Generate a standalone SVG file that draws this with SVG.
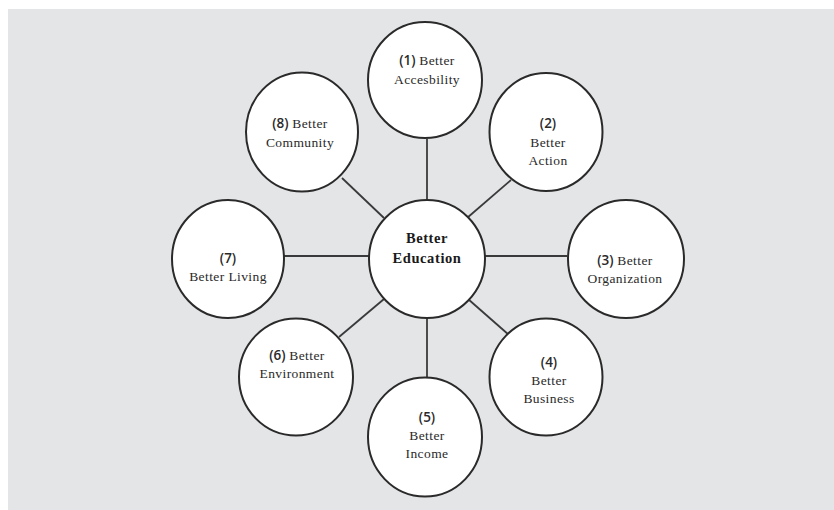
<svg xmlns="http://www.w3.org/2000/svg" width="834" height="510" viewBox="0 0 834 510">
<style>
.node ellipse{fill:#ffffff;stroke:#2a2a2a;stroke-width:2}
.lbl{font-family:"Liberation Serif","Times New Roman",serif;font-size:13.5px;fill:#2a2a2a;text-anchor:middle;letter-spacing:0.4px}
.num{font-family:"Open Sans","Liberation Sans",sans-serif;font-size:13.5px;font-weight:600;letter-spacing:0}
.main{font-family:"Liberation Serif","Times New Roman",serif;font-size:14.5px;font-weight:bold;fill:#1a1a1a;text-anchor:middle;letter-spacing:0.6px}
.edge{stroke:#3a3a3a;stroke-width:1.8;fill:none}
</style>
<rect x="0" y="0" width="834" height="510" fill="#ffffff"/>
<rect x="8" y="9" width="826" height="501" fill="#e4e5e7"/>
<g id="connectors">
<line class="edge" x1="427" y1="139" x2="427" y2="201"/>
<line class="edge" x1="342" y1="178" x2="384" y2="218"/>
<line class="edge" x1="511" y1="180" x2="467" y2="218"/>
<line class="edge" x1="284" y1="256" x2="369" y2="256"/>
<line class="edge" x1="484" y1="256" x2="567" y2="256"/>
<line class="edge" x1="339" y1="337" x2="384" y2="299"/>
<line class="edge" x1="468" y1="299" x2="509" y2="335"/>
<line class="edge" x1="427" y1="317" x2="427" y2="379"/>
</g>
<g id="center" class="node">
<ellipse cx="427" cy="259" rx="58" ry="59"/>
<text class="main" x="427" y="243">Better</text>
<text class="main" x="427" y="263">Education</text>
</g>
<g id="n1" class="node">
<ellipse cx="425" cy="80" rx="57" ry="58"/>
<text class="lbl" x="427" y="65"><tspan class="num">(1)</tspan> Better</text>
<text class="lbl" x="427" y="84">Accesbility</text>
</g>
<g id="n2" class="node">
<ellipse cx="546" cy="132" rx="56.5" ry="59"/>
<text class="lbl num" x="548" y="128">(2)</text>
<text class="lbl" x="548" y="147">Better</text>
<text class="lbl" x="548" y="165">Action</text>
</g>
<g id="n3" class="node">
<ellipse cx="626" cy="259" rx="58" ry="59"/>
<text class="lbl" x="625" y="265"><tspan class="num">(3)</tspan> Better</text>
<text class="lbl" x="625" y="283">Organization</text>
</g>
<g id="n4" class="node">
<ellipse cx="546" cy="377" rx="56.5" ry="58.5"/>
<text class="lbl num" x="549" y="367">(4)</text>
<text class="lbl" x="549" y="385">Better</text>
<text class="lbl" x="549" y="403">Business</text>
</g>
<g id="n5" class="node">
<ellipse cx="425" cy="437" rx="57" ry="59.5"/>
<text class="lbl num" x="427" y="422">(5)</text>
<text class="lbl" x="427" y="440">Better</text>
<text class="lbl" x="427" y="458">Income</text>
</g>
<g id="n6" class="node">
<ellipse cx="296" cy="377" rx="57" ry="58.5"/>
<text class="lbl" x="297" y="360"><tspan class="num">(6)</tspan> Better</text>
<text class="lbl" x="297" y="378">Environment</text>
</g>
<g id="n7" class="node">
<ellipse cx="228" cy="259" rx="56" ry="59"/>
<text class="lbl num" x="228" y="263">(7)</text>
<text class="lbl" x="228" y="281">Better Living</text>
</g>
<g id="n8" class="node">
<ellipse cx="302" cy="132" rx="56" ry="59.5"/>
<text class="lbl" x="300" y="128"><tspan class="num">(8)</tspan> Better</text>
<text class="lbl" x="300" y="147">Community</text>
</g>
</svg>
